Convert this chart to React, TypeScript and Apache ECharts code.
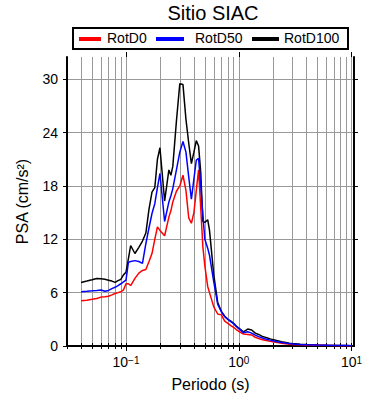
import React, { useEffect, useRef } from "react";
import * as echarts from "echarts";

const periods = [
  0.04, 0.045, 0.05, 0.055, 0.06, 0.065, 0.07, 0.075, 0.08, 0.085, 0.09, 0.095,
  0.1, 0.105, 0.11, 0.12, 0.13, 0.14, 0.15, 0.16, 0.17, 0.18, 0.19, 0.2,
  0.22, 0.24, 0.25, 0.26, 0.28, 0.3, 0.32, 0.34, 0.36, 0.38, 0.4, 0.42, 0.44, 0.46, 0.48, 0.5,
  0.53, 0.55, 0.6, 0.65, 0.7, 0.75, 0.8, 0.85, 0.9, 0.95, 1.0,
  1.1, 1.2, 1.3, 1.4, 1.5, 1.6, 1.7, 1.8, 1.9, 2.0,
  2.2, 2.4, 2.6, 2.8, 3.0, 3.5, 4.0, 4.5, 5.0,
  6.0, 7.0, 8.0, 9.0, 10.0,
];

const rotD100 = [
  7.15, 7.3, 7.45, 7.6, 7.55, 7.5, 7.4, 7.3, 7.15, 7.35, 7.5, 8.0,
  8.3, 9.8, 11.3, 10.4, 11.1, 11.8, 12.7, 15.4, 17.3, 17.8, 21.0, 22.3,
  16.3, 19.8, 19.2, 20.2, 25.3, 29.5, 29.4, 25.5, 22.8, 20.5, 21.8, 23.1, 22.5, 19.5, 14.0, 13.9,
  14.2, 13.0, 8.0, 4.9, 3.9, 3.35, 3.0, 2.8, 2.55, 2.25, 2.0,
  1.6, 1.9, 1.8, 1.45, 1.3, 1.1, 1.0, 0.9, 0.8, 0.72,
  0.6, 0.48, 0.4, 0.32, 0.27, 0.2, 0.16, 0.14, 0.12,
  0.09, 0.07, 0.06, 0.05, 0.04,
];

const rotD50 = [
  6.1, 6.15, 6.2, 6.25, 6.3, 6.15, 6.25, 6.45, 6.6, 6.8, 7.0, 7.2,
  7.4, 9.4, 9.5, 9.6, 9.5, 9.3, 11.5, 13.3, 14.9, 16.0, 17.8, 19.4,
  14.0, 16.2, 16.9, 17.7, 19.8, 21.8, 23.0, 21.8, 19.0, 16.5, 18.8, 20.9, 21.1, 18.0, 14.8, 12.0,
  11.0, 10.2, 7.2, 4.7, 3.85, 3.3, 3.0, 2.75, 2.5, 2.2, 1.95,
  1.5, 1.6, 1.45, 1.22, 1.05, 0.92, 0.82, 0.74, 0.66, 0.6,
  0.48, 0.4, 0.33, 0.27, 0.23, 0.17, 0.14, 0.12, 0.1,
  0.08, 0.06, 0.05, 0.045, 0.04,
];

const rotD0 = [
  5.1, 5.15, 5.25, 5.35, 5.5, 5.55, 5.6, 5.75, 5.9, 6.0, 6.1, 6.3,
  7.0, 7.0, 6.8, 7.6, 8.2, 8.5, 8.6, 9.5, 10.4, 12.0, 13.4, 13.0,
  12.4, 14.5, 15.2, 16.2, 17.4, 18.0, 19.2, 17.5, 14.4, 13.8, 15.0, 17.5, 19.8, 15.5, 11.2, 9.0,
  6.7, 6.0, 4.4, 3.6, 3.5, 2.8, 2.55, 2.3, 2.1, 1.85, 1.65,
  1.35, 1.3, 1.25, 0.98, 0.85, 0.72, 0.65, 0.58, 0.52, 0.47,
  0.38, 0.3, 0.25, 0.2, 0.17, 0.13, 0.1, 0.09, 0.08,
  0.06, 0.05, 0.04, 0.035, 0.03,
];

const xAllTicks = [
  0.03, 0.04, 0.05, 0.06, 0.07, 0.08, 0.09,
  0.1, 0.2, 0.3, 0.4, 0.5, 0.6, 0.7, 0.8, 0.9,
  1, 2, 3, 4, 5, 6, 7, 8, 9, 10,
];
const xMajorTicks = [0.1, 1, 10];
const yTicks = [0, 6, 12, 18, 24, 30];
const yRightTicks = [6, 12, 18, 24, 30];

const legendNames = ["RotD0", "RotD50", "RotD100"];
const legendColors = ["#ff0000", "#0000ff", "#000000"];

const FONT = "'Liberation Sans', Arial, Helvetica, sans-serif";

export default function App() {
  const ref = useRef<HTMLDivElement>(null);

  useEffect(() => {
    if (!ref.current) return;
    document.body.style.margin = "0";
    const chart = echarts.init(ref.current, undefined, { renderer: "svg" });

    const pairs = (vals: number[]) => periods.map((p, i) => [p, vals[i]]);

    const xMin = 0.03;
    const xMax = 10.5;
    const yMin = 0;
    const yMax = 32.5;

    const supFormatter = (v: number) => {
      const e = Math.round(Math.log10(v));
      const s = e < 0 ? "\u2212" + Math.abs(e) : String(e);
      return "{b|10}{s|" + s + "}";
    };

    const option: any = {
      animation: false,
      backgroundColor: "#ffffff",
      textStyle: { fontFamily: FONT },
      title: {
        text: "Sitio SIAC",
        left: 213,
        top: 3,
        textAlign: "center",
        padding: 0,
        textStyle: { fontFamily: FONT, fontSize: 20, fontWeight: "normal", color: "#000" },
      },
      grid: { left: 67, right: 36, top: 57, bottom: 54, containLabel: false, outerBoundsMode: "none" },
      xAxis: [
        {
          type: "log",
          logBase: 10,
          min: xMin,
          max: xMax,
          position: "bottom",
          name: "Periodo (s)",
          nameLocation: "middle",
          nameGap: 30,
          nameTextStyle: { fontFamily: FONT, fontSize: 16, color: "#000" },
          axisLine: { show: true, lineStyle: { color: "#000", width: 2 } },
          axisTick: { show: true, inside: false, length: 3, customValues: xAllTicks, lineStyle: { color: "#000", width: 1 } },
          axisLabel: {
            show: true,
            customValues: xMajorTicks,
            margin: 9,
            formatter: supFormatter,
            rich: {
              b: { fontFamily: FONT, fontSize: 14, color: "#000", lineHeight: 14, verticalAlign: "bottom" },
              s: { fontFamily: FONT, fontSize: 10, color: "#000", lineHeight: 10, verticalAlign: "top", padding: [0, 0, 6, 0] },
            },
          },
          splitLine: { show: true, lineStyle: { color: "#999", width: 1 } },
          minorTick: { show: false },
        },
        {
          type: "log",
          logBase: 10,
          min: xMin,
          max: xMax,
          position: "top",
          axisLine: { show: true, lineStyle: { color: "#000", width: 2 } },
          axisTick: { show: true, inside: false, length: 3, customValues: xAllTicks, lineStyle: { color: "#000", width: 1 } },
          axisLabel: { show: false },
          splitLine: { show: false },
        },
        {
          type: "log",
          logBase: 10,
          min: xMin,
          max: xMax,
          position: "bottom",
          axisLine: { show: false },
          axisTick: { show: true, inside: false, length: 5, customValues: xMajorTicks, lineStyle: { color: "#000", width: 1 } },
          axisLabel: { show: false },
          splitLine: { show: false },
        },
        {
          type: "log",
          logBase: 10,
          min: xMin,
          max: xMax,
          position: "top",
          axisLine: { show: false },
          axisTick: { show: true, inside: false, length: 5, customValues: xMajorTicks, lineStyle: { color: "#000", width: 1 } },
          axisLabel: { show: false },
          splitLine: { show: false },
        },
      ],
      yAxis: [
        {
          type: "value",
          min: yMin,
          max: yMax,
          interval: 6,
          position: "left",
          name: "PSA (cm/s\u00B2)",
          nameLocation: "middle",
          nameGap: 37,
          nameTextStyle: { fontFamily: FONT, fontSize: 16, color: "#000" },
          axisLine: { show: true, lineStyle: { color: "#000", width: 2 } },
          axisTick: { show: true, inside: false, length: 4, customValues: yTicks, lineStyle: { color: "#000", width: 1 } },
          axisLabel: { show: true, customValues: yTicks, margin: 9, fontFamily: FONT, fontSize: 14, color: "#000" },
          splitLine: { show: true, lineStyle: { color: "#999", width: 1 } },
        },
        {
          type: "value",
          min: yMin,
          max: yMax,
          interval: 6,
          position: "right",
          axisLine: { show: true, lineStyle: { color: "#000", width: 2 } },
          axisTick: { show: true, inside: false, length: 4, customValues: yRightTicks, lineStyle: { color: "#000", width: 1 } },
          axisLabel: { show: false },
          splitLine: { show: false },
        },
      ],
      series: [
        {
          name: legendNames[2],
          type: "line",
          xAxisIndex: 0,
          yAxisIndex: 0,
          data: pairs(rotD100),
          showSymbol: false,
          symbol: "none",
          lineStyle: { color: legendColors[2], width: 1.5 },
          z: 3,
        },
        {
          name: legendNames[0],
          type: "line",
          xAxisIndex: 0,
          yAxisIndex: 0,
          data: pairs(rotD0),
          showSymbol: false,
          symbol: "none",
          lineStyle: { color: legendColors[0], width: 1.5 },
          z: 4,
        },
        {
          name: legendNames[1],
          type: "line",
          xAxisIndex: 0,
          yAxisIndex: 0,
          data: pairs(rotD50),
          showSymbol: false,
          symbol: "none",
          lineStyle: { color: legendColors[1], width: 1.5 },
          z: 5,
        },
      ],
      graphic: [
        {
          type: "group",
          children: [
            {
              type: "rect",
              shape: { x: 73, y: 28, width: 275, height: 21 },
              style: { fill: "#fff", stroke: "#000", lineWidth: 2 },
            },
            { type: "line", shape: { x1: 79, y1: 39, x2: 101, y2: 39 }, style: { stroke: legendColors[0], lineWidth: 4 } },
            { type: "text", x: 107, y: 38, style: { text: legendNames[0], font: "14px " + FONT, fill: "#000", verticalAlign: "middle" } },
            { type: "line", shape: { x1: 156, y1: 39, x2: 184, y2: 39 }, style: { stroke: legendColors[1], lineWidth: 4 } },
            { type: "text", x: 195, y: 38, style: { text: legendNames[1], font: "14px " + FONT, fill: "#000", verticalAlign: "middle" } },
            { type: "line", shape: { x1: 252, y1: 39, x2: 279, y2: 39 }, style: { stroke: legendColors[2], lineWidth: 4 } },
            { type: "text", x: 284, y: 38, style: { text: legendNames[2], font: "14px " + FONT, fill: "#000", verticalAlign: "middle" } },
          ],
        },
      ],
    };

    chart.setOption(option);
    return () => chart.dispose();
  }, []);

  return <div ref={ref} style={{ width: 390, height: 400 }} />;
}
